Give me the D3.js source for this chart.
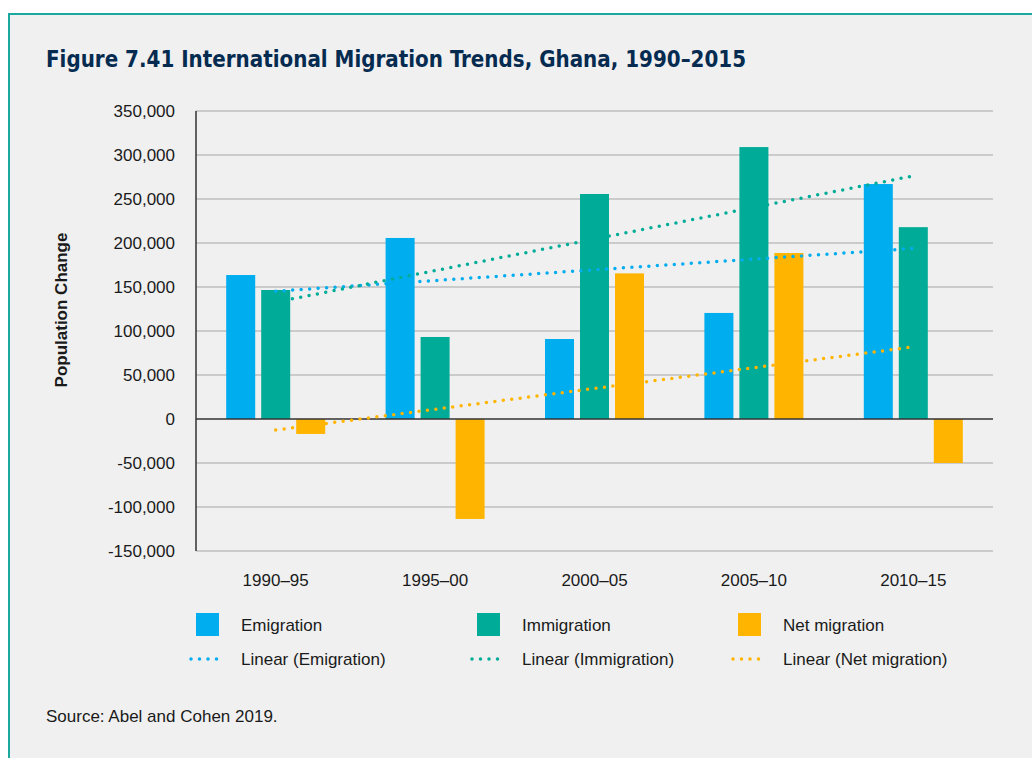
<!DOCTYPE html>
<html>
<head>
<meta charset="utf-8">
<script src="https://cdn.jsdelivr.net/npm/d3@7"></script>
<style>
  html, body { margin: 0; padding: 0; background: #fff; }
  svg { display: block; font-family: "Liberation Sans", Arial, sans-serif; }
</style>
</head>
<body>
<div class="chart"></div>
<script>
// data
const categories = ["1990–95", "1995–00", "2000–05", "2005–10", "2010–15"];
const emigration = [163600, 205700, 90900, 120500, 267000];
const immigration = [146600, 93200, 255700, 309000, 218000];
const netMigration = [-17000, -113600, 165500, 188600, -50000];
const yTicks = [-150000, -100000, -50000, 0, 50000, 100000, 150000, 200000, 250000, 300000, 350000];

const seriesNames = ["Emigration", "Immigration", "Net migration"];
const seriesValues = [emigration, immigration, netMigration];
const colors = ["#00adef", "#00ac97", "#ffb500"];

const W = 1032, H = 758;
const plot = { left: 196, right: 993, top: 111, bottom: 551 };

const svg = d3.select(".chart")
  .append("svg")
    .attr("width", W)
    .attr("height", H);

// panel with teal frame on top and left
svg.append("rect")
  .attr("x", 8).attr("y", 13)
  .attr("width", W - 8).attr("height", H - 13)
  .attr("fill", "#f0f0f0");
svg.append("path")
  .attr("d", `M9,${H}V14H${W}`)
  .attr("fill", "none")
  .attr("stroke", "#1ba89f")
  .attr("stroke-width", 2);

svg.append("text")
  .attr("x", 46).attr("y", 67)
  .attr("textLength", 700)
  .attr("lengthAdjust", "spacingAndGlyphs")
  .style("font-family", "'DejaVu Sans', sans-serif")
  .style("font-stretch", "condensed")
  .style("font-weight", "bold")
  .style("font-size", "23px")
  .attr("fill", "#062b50")
  .text("Figure 7.41 International Migration Trends, Ghana, 1990–2015");

const y = d3.scaleLinear()
  .domain([-150000, 350000])
  .range([plot.bottom, plot.top]);

const x = d3.scaleBand()
  .domain(categories)
  .range([plot.left, plot.right]);

const inner = d3.scaleBand()
  .domain(seriesNames)
  .range([-49.5, 49.5])
  .paddingInner(0.1714);

const fmt = d3.formatLocale({ decimal: ".", thousands: ",", grouping: [3], currency: ["$", ""], minus: "-" }).format(",");

// gridlines
svg.append("g")
  .selectAll("line")
  .data(yTicks.filter(d => d !== 0))
  .join("line")
    .attr("x1", plot.left).attr("x2", plot.right)
    .attr("y1", d => y(d)).attr("y2", d => y(d))
    .attr("stroke", "#bfbfbf")
    .attr("stroke-width", 1.5);

// y axis labels
const yAxis = svg.append("g")
  .attr("transform", `translate(${plot.left},0)`)
  .call(d3.axisLeft(y).tickValues(yTicks).tickSize(0).tickPadding(21).tickFormat(fmt));
yAxis.select(".domain").remove();
yAxis.selectAll("text")
  .style("font-family", "'Liberation Sans', Arial, sans-serif")
  .style("font-size", "17px")
  .attr("fill", "#1a1a1a");

svg.append("text")
  .attr("transform", "translate(67,310) rotate(-90)")
  .attr("text-anchor", "middle")
  .style("font-weight", "bold")
  .style("font-size", "17px")
  .attr("fill", "#1a1a1a")
  .text("Population Change");

// bars
const rows = [];
categories.forEach((c, i) => {
  seriesNames.forEach((s, j) => rows.push({ cat: c, series: s, value: seriesValues[j][i], color: colors[j] }));
});

svg.append("g")
  .selectAll("rect")
  .data(rows)
  .join("rect")
    .attr("x", d => x(d.cat) + x.bandwidth() / 2 + inner(d.series))
    .attr("y", d => y(Math.max(0, d.value)))
    .attr("width", inner.bandwidth())
    .attr("height", d => Math.abs(y(d.value) - y(0)))
    .attr("fill", d => d.color);

// axis lines
svg.append("line")
  .attr("x1", plot.left).attr("x2", plot.left)
  .attr("y1", plot.top).attr("y2", plot.bottom)
  .attr("stroke", "#333").attr("stroke-width", 1.5);
svg.append("line")
  .attr("x1", plot.left).attr("x2", plot.right)
  .attr("y1", y(0)).attr("y2", y(0))
  .attr("stroke", "#333").attr("stroke-width", 1.5);

// linear trendlines (least squares over category index)
const fit = vals => {
  const n = vals.length;
  const xs = d3.range(1, n + 1);
  const mx = d3.mean(xs), my = d3.mean(vals);
  const slope = d3.sum(xs, (xi, i) => (xi - mx) * (vals[i] - my)) / d3.sum(xs, xi => (xi - mx) ** 2);
  return xi => my + slope * (xi - mx);
};

const line = d3.line()
  .x(d => x(categories[d[0] - 1]) + x.bandwidth() / 2)
  .y(d => y(d[1]));

seriesValues.forEach((vals, j) => {
  const f = fit(vals);
  svg.append("path")
    .attr("d", line([[1, f(1)], [5, f(5)]]))
    .attr("fill", "none")
    .attr("stroke", colors[j])
    .attr("stroke-width", 3.5)
    .attr("stroke-linecap", "round")
    .attr("stroke-dasharray", "0 8.5");
});

// x labels
svg.append("g")
  .selectAll("text")
  .data(categories)
  .join("text")
    .attr("x", d => x(d) + x.bandwidth() / 2)
    .attr("y", 586)
    .attr("text-anchor", "middle")
    .style("font-size", "17px")
    .attr("fill", "#1a1a1a")
    .text(d => d);

// legend
const legendX = [196, 477, 738];
const legend = svg.append("g");
seriesNames.forEach((s, j) => {
  legend.append("rect")
    .attr("x", legendX[j]).attr("y", 613)
    .attr("width", 23).attr("height", 23)
    .attr("fill", colors[j]);
  legend.append("text")
    .attr("x", legendX[j] + 45).attr("y", 631)
    .style("font-size", "17px")
    .attr("fill", "#1a1a1a")
    .text(s);
  legend.append("line")
    .attr("x1", legendX[j] - 5).attr("x2", legendX[j] + 25)
    .attr("y1", 659).attr("y2", 659)
    .attr("stroke", colors[j])
    .attr("stroke-width", 3.5)
    .attr("stroke-linecap", "round")
    .attr("stroke-dasharray", "0 8.5");
  legend.append("text")
    .attr("x", legendX[j] + 45).attr("y", 665)
    .style("font-size", "17px")
    .attr("fill", "#1a1a1a")
    .text(`Linear (${s})`);
});

svg.append("text")
  .attr("x", 46).attr("y", 722)
  .style("font-size", "17px")
  .attr("fill", "#1a1a1a")
  .text("Source: Abel and Cohen 2019.");
</script>
</body>
</html>
